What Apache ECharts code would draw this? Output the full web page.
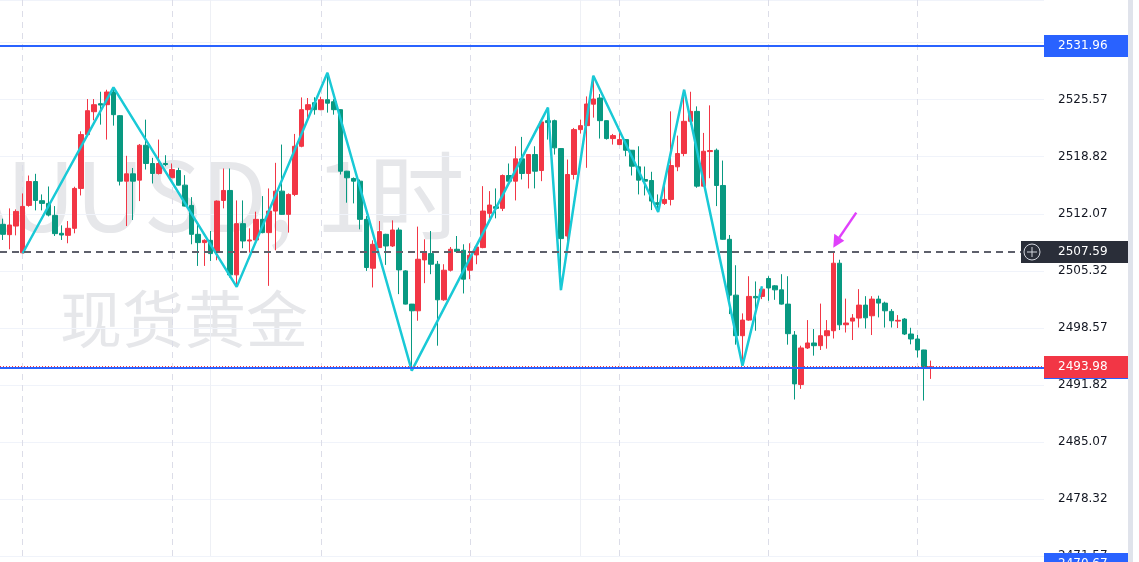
<!DOCTYPE html>
<html>
<head>
<meta charset="utf-8">
<script src="https://cdn.jsdelivr.net/npm/echarts@6/dist/echarts.min.js"></script>
<style>html,body{margin:0;padding:0;background:#fff;overflow:hidden}#c{width:1139px;height:562px}</style>
</head>
<body>
<div id="c"></div>
<script>
// ---- data (XAUUSD 1H) ----
const slotCount = 161; // 144 candles + empty space on the right
const categories = Array.from({length: slotCount}, (_, i) => String(i));
const opens = [2510.82,2509.60,2510.62,2507.45,2513.06,2515.89,2513.62,2513.30,2511.88,2509.76,2509.52,2510.35,2515.07,2521.44,2524.15,2525.10,2524.98,2526.48,2523.68,2515.93,2516.80,2516.05,2520.18,2518.02,2516.84,2518.02,2516.33,2517.19,2515.46,2513.06,2509.64,2508.66,2508.93,2507.48,2513.65,2514.83,2504.84,2510.90,2508.85,2508.97,2511.41,2509.84,2512.39,2514.75,2512.00,2514.36,2520.06,2524.39,2525.22,2524.39,2525.57,2525.33,2524.39,2517.11,2516.25,2515.93,2511.41,2505.63,2508.07,2509.64,2508.26,2510.15,2505.31,2501.38,2500.59,2506.61,2507.36,2506.10,2501.89,2505.39,2507.87,2507.75,2505.39,2507.20,2508.07,2512.12,2512.91,2512.71,2516.60,2515.93,2518.57,2516.84,2519.08,2517.19,2523.09,2523.09,2519.79,2509.44,2516.72,2522.03,2522.50,2525.04,2525.77,2523.09,2520.97,2520.26,2520.85,2519.59,2517.63,2516.13,2516.01,2513.38,2513.30,2513.77,2517.63,2519.20,2523.01,2524.19,2515.34,2519.43,2519.59,2515.42,2509.05,2502.44,2497.64,2499.49,2502.29,2502.29,2504.41,2503.54,2503.07,2501.38,2497.72,2491.86,2496.19,2496.78,2496.46,2497.64,2498.23,2506.22,2498.94,2499.37,2499.73,2501.26,2500.00,2501.97,2501.50,2500.52,2499.37,2499.61,2497.84,2497.25,2495.95,2493.89];
const closes = [2509.64,2510.74,2512.35,2512.94,2515.89,2513.65,2513.30,2511.92,2509.72,2509.56,2510.35,2515.07,2521.44,2524.27,2524.98,2524.94,2526.48,2523.80,2515.93,2516.80,2515.93,2520.18,2518.02,2516.84,2518.02,2517.90,2517.31,2515.46,2512.98,2509.64,2508.66,2508.93,2507.36,2513.57,2514.83,2504.84,2510.90,2508.85,2508.97,2511.41,2509.84,2512.39,2514.75,2512.00,2514.36,2520.06,2524.39,2524.98,2524.39,2525.57,2525.16,2524.39,2517.11,2516.33,2515.93,2511.41,2505.71,2508.46,2509.96,2508.26,2510.15,2505.43,2501.38,2500.59,2506.69,2507.60,2506.10,2501.89,2505.39,2507.87,2507.60,2504.33,2507.16,2508.14,2512.39,2513.10,2512.71,2516.60,2515.93,2518.57,2516.84,2519.08,2517.11,2522.94,2522.86,2519.87,2509.13,2516.72,2522.03,2522.50,2525.06,2525.65,2523.09,2520.97,2521.32,2520.85,2519.59,2517.70,2516.05,2515.93,2513.57,2513.18,2513.77,2517.78,2519.20,2523.01,2524.19,2515.34,2519.47,2519.55,2515.42,2509.05,2502.44,2497.64,2499.49,2502.29,2502.12,2503.15,2503.29,2503.07,2501.38,2497.88,2491.94,2496.19,2496.78,2496.46,2497.64,2498.23,2506.22,2498.93,2499.14,2499.73,2501.26,2499.76,2501.97,2501.50,2500.59,2499.41,2499.46,2497.84,2497.25,2495.95,2493.91,2493.98];
const lows = [2508.97,2507.87,2509.52,2507.40,2512.91,2512.47,2512.47,2511.76,2509.44,2508.97,2508.58,2509.76,2514.24,2521.32,2523.13,2522.62,2520.85,2522.50,2515.42,2510.62,2511.33,2513.57,2517.31,2515.66,2516.72,2517.70,2516.31,2515.42,2512.94,2508.46,2505.90,2505.90,2506.49,2506.57,2512.71,2504.53,2503.42,2507.99,2507.48,2508.85,2509.76,2503.54,2507.75,2511.94,2509.84,2514.16,2519.94,2523.41,2523.80,2524.33,2524.04,2523.80,2516.72,2513.38,2513.30,2510.23,2505.31,2503.35,2508.05,2506.02,2508.14,2502.56,2501.34,2493.51,2499.41,2503.86,2504.92,2496.46,2501.77,2505.24,2507.48,2502.64,2504.33,2506.10,2507.99,2511.53,2511.53,2512.39,2515.46,2513.65,2516.13,2515.07,2515.07,2515.93,2520.85,2519.08,2503.03,2508.81,2516.13,2521.56,2517.51,2523.45,2520.97,2520.85,2520.26,2520.20,2518.88,2516.60,2514.36,2514.24,2512.51,2512.29,2513.12,2513.06,2517.11,2518.88,2522.62,2515.15,2515.30,2516.28,2512.98,2508.99,2500.20,2496.58,2494.10,2499.41,2498.23,2501.97,2501.77,2501.89,2501.32,2496.58,2490.09,2491.35,2496.07,2495.28,2495.95,2496.11,2497.31,2498.31,2498.02,2497.13,2498.61,2498.49,2497.72,2499.81,2498.61,2498.61,2498.55,2497.72,2496.62,2495.07,2489.97,2492.53];
const highs = [2511.49,2512.71,2512.59,2514.48,2516.60,2516.80,2514.36,2515.30,2512.98,2510.70,2511.21,2515.27,2521.83,2525.65,2525.65,2526.51,2526.75,2527.04,2523.75,2518.93,2517.49,2520.32,2523.21,2518.69,2520.85,2519.00,2518.02,2517.51,2516.64,2514.04,2510.82,2509.05,2510.03,2513.65,2517.43,2517.43,2513.65,2513.65,2510.35,2512.32,2514.16,2515.07,2518.10,2520.26,2514.48,2521.52,2525.84,2525.77,2525.86,2525.92,2528.76,2525.63,2524.45,2517.15,2516.37,2516.13,2511.80,2508.93,2511.21,2509.70,2511.29,2510.43,2505.39,2501.40,2510.55,2509.05,2510.03,2506.49,2506.10,2508.14,2509.44,2508.46,2508.58,2508.46,2515.34,2514.75,2515.07,2516.72,2518.02,2520.06,2521.17,2519.10,2520.06,2522.97,2524.63,2523.21,2519.85,2518.49,2522.23,2523.21,2525.96,2528.40,2526.24,2523.12,2521.52,2521.83,2520.87,2519.62,2520.06,2517.66,2517.04,2514.36,2516.25,2524.19,2521.32,2526.75,2526.51,2524.78,2521.64,2524.90,2519.79,2518.37,2509.56,2505.98,2500.28,2504.68,2504.06,2503.27,2504.68,2503.62,2504.92,2504.68,2498.19,2496.46,2499.49,2498.43,2501.44,2499.49,2507.59,2506.63,2502.03,2500.20,2503.15,2502.32,2502.32,2502.38,2501.67,2500.79,2500.08,2499.73,2498.58,2497.72,2495.97,2494.69];
// zigzag drawing: [candle index, price]
const zigzagIdx = [3, 17, 36, 50, 63, 84, 86, 91, 101, 105, 114, 117];
const zigzagVal = [2507.40, 2527.04, 2503.42, 2528.76, 2493.51, 2524.63, 2503.03, 2528.40, 2512.29, 2526.75, 2494.10, 2503.50];
// horizontal levels
const levelTop = 2531.96;
const levelDash = 2507.59;
const levelBottom = 2493.90;
const lastPrice = 2493.98;
const hiddenLevel = 2470.67;
// vertical separators (candle index)
const sessionLines = [3, 26, 49, 72, 95, 118, 141];
const gridLinesV = [32, 89];
// y axis ticks
const yMin = 2471.57, yMax = 2537.37, yStep = 6.75;
const arrowTarget = 128;
const watermark1 = 'XAUUSD, 1时';
const watermark2 = '现货黄金';

const candles = opens.map((o, i) => [o, closes[i], lows[i], highs[i]]);
const zigzag = zigzagIdx.map((x, i) => [x, zigzagVal[i]]);

const chart = echarts.init(document.getElementById('c'));
const GRID_R = 95;
chart.setOption({
  animation: false,
  backgroundColor: '#ffffff',
  grid: {left: 0, right: GRID_R, top: 0, bottom: 4.4},
  xAxis: {type: 'category', data: categories, boundaryGap: true,
    axisLine: {show: false}, axisTick: {show: false}, axisLabel: {show: false}, splitLine: {show: false}},
  yAxis: {type: 'value', position: 'right', min: yMin, max: yMax, interval: yStep,
    axisLine: {show: false}, axisTick: {show: false},
    splitLine: {lineStyle: {color: '#f0f3fa', width: 1}},
    axisLabel: {margin: 14, color: '#131722', fontSize: 12, fontFamily: 'DejaVu Sans',
      showMaxLabel: false, formatter: v => v.toFixed(2)}},
  series: [
    {type: 'line', data: [], silent: true,
      markLine: {z: 1, silent: true, symbol: ['none', 'none'], label: {show: false},
        data: sessionLines.map(v => ({xAxis: v, lineStyle: {color: '#dcdde8', width: 1, type: [6, 5]}}))
          .concat(gridLinesV.map(v => ({xAxis: v, lineStyle: {color: '#eef0f5', width: 1, type: 'solid'}})))}},
    {type: 'candlestick', data: candles, barWidth: 5, z: 2,
      itemStyle: {color: '#F23645', color0: '#089981', borderColor: '#F23645', borderColor0: '#089981', borderWidth: 1}},
    {type: 'line', data: zigzag, symbol: 'none', z: 5, silent: true,
      lineStyle: {color: '#19c9d6', width: 2.5}},
    {type: 'line', data: [], silent: true,
      markLine: {z: 6, silent: true, symbol: ['none', 'none'], label: {show: false},
        data: [
          {yAxis: levelTop, lineStyle: {color: '#2962FF', width: 2, type: 'solid'}},
          {yAxis: levelDash, lineStyle: {color: '#5d606b', width: 2, type: [7, 5]}},
          {yAxis: levelBottom, lineStyle: {color: '#2962FF', width: 2, type: 'solid'}},
          {yAxis: lastPrice, lineStyle: {color: '#F23645', width: 1, type: [1, 2]}}
        ]}}
  ]
});

// ---- overlay labels positioned from the axis scale ----
const yp = v => chart.convertToPixel({yAxisIndex: 0}, v);
const W = 1139, H = 562;
const axisX = W - GRID_R;
const font = '12px "DejaVu Sans"';
function priceTag(v, fill, extraLeft) {
  const y = Math.round(yp(v));
  return [
    {type: 'rect', shape: {x: axisX - (extraLeft || 0), y: y - 11, width: 84 + (extraLeft || 0), height: 22}, style: {fill: fill}, z: 100},
    {type: 'text', x: axisX + 14, y: y, style: {text: v.toFixed(2), fill: '#ffffff', font: font, verticalAlign: 'middle', align: 'left'}, z: 101}
  ];
}
// place the watermark so that the first visible "U" starts where it does in the picture
const wmFont = '96px "Noto Sans CJK SC"';
const mctx = document.createElement('canvas').getContext('2d');
mctx.font = wmFont;
const wmX = 8 - mctx.measureText('XA').width;

const yDash = Math.round(yp(levelDash));
const tip = chart.convertToPixel({seriesIndex: 1}, [arrowTarget, highs[arrowTarget]]);
const tx = tip[0], ty = tip[1] - 4;
const graphics = [
  {type: 'text', x: wmX, y: 244, z: -10, silent: true,
    style: {text: watermark1, fill: '#e6e7ea', font: wmFont, align: 'left', verticalAlign: 'bottom'}},
  {type: 'text', x: 60, y: 350, z: -10, silent: true,
    style: {text: watermark2, fill: '#e6e7ea', font: '62px "Noto Sans CJK SC"', align: 'left', verticalAlign: 'bottom'}},
  {type: 'rect', shape: {x: 1128, y: 0, width: 5, height: H}, style: {fill: '#e0e3eb'}, z: 100},
  {type: 'line', shape: {x1: tx + 23, y1: ty - 35, x2: tx + 6, y2: ty - 10}, style: {stroke: '#e040fb', lineWidth: 2.5}, z: 50},
  {type: 'polygon', shape: {points: [[tx, ty], [tx + 1, ty - 14], [tx + 11, ty - 7]]}, style: {fill: '#e040fb'}, z: 50}
]
  .concat(priceTag(levelTop, '#2962FF'))
  .concat([{type: 'rect', shape: {x: axisX, y: Math.round(yp(levelBottom)) - 10, width: 84, height: 22}, style: {fill: '#2962FF'}, z: 99}])
  .concat(priceTag(lastPrice, '#F23645'))
  .concat(priceTag(levelDash, '#2a2e39', 23))
  .concat([
    {type: 'circle', shape: {cx: axisX - 12, cy: yDash, r: 8}, style: {fill: 'none', stroke: '#d1d4dc', lineWidth: 1}, z: 102},
    {type: 'line', shape: {x1: axisX - 12, y1: yDash - 5, x2: axisX - 12, y2: yDash + 5}, style: {stroke: '#d1d4dc', lineWidth: 1}, z: 102},
    {type: 'line', shape: {x1: axisX - 17, y1: yDash, x2: axisX - 7, y2: yDash}, style: {stroke: '#d1d4dc', lineWidth: 1}, z: 102},
    {type: 'rect', shape: {x: axisX, y: 553, width: 84, height: 22}, style: {fill: '#2962FF'}, z: 100},
    {type: 'text', x: axisX + 14, y: 564, style: {text: hiddenLevel.toFixed(2), fill: '#ffffff', font: font, verticalAlign: 'middle', align: 'left'}, z: 101}
  ]);
chart.setOption({graphic: graphics});
</script>
</body>
</html>
